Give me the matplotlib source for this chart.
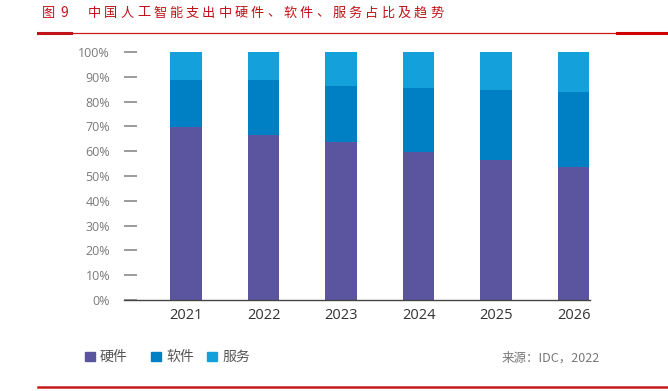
import matplotlib
matplotlib.use("Agg")
import matplotlib.pyplot as plt
from matplotlib.patches import Rectangle
from matplotlib.lines import Line2D

plt.rcParams['font.family'] = ['Noto Sans CJK SC', 'DejaVu Sans']

# data (share of AI spending, %)
years = ['2021', '2022', '2023', '2024', '2025', '2026']
hardware = [69.6, 66.4, 63.7, 59.5, 56.3, 53.8]
software = [19.2, 22.4, 22.6, 26.1, 28.5, 30.2]
services = [11.2, 11.2, 13.7, 14.4, 15.2, 16.0]
series_names = ['硬件', '软件', '服务']
colors = ['#5b55a0', '#0080c4', '#14a0da']
title_text = '中国人工智能支出中硬件、软件、服务占比及趋势'

W, H = 668, 391
fig = plt.figure(figsize=(W / 100, H / 100), dpi=100)

ax = fig.add_axes([124 / W, (H - 300) / H, (589.5 - 124) / W, 248 / H])
x = list(range(len(years)))
hw = [v / 100 for v in hardware]
sw = [v / 100 for v in software]
sv = [v / 100 for v in services]
bottom2 = [a + b for a, b in zip(hw, sw)]
ax.bar(x, hw, width=0.41, color=colors[0])
ax.bar(x, sw, width=0.41, bottom=hw, color=colors[1])
ax.bar(x, sv, width=0.41, bottom=bottom2, color=colors[2])

ax.set_xlim(-0.8, 5.206)
ax.set_ylim(0, 1)
for s in ['left', 'right', 'top']:
    ax.spines[s].set_visible(False)
ax.spines['bottom'].set_color('#444444')
ax.spines['bottom'].set_linewidth(1.0)

ax.set_yticks([i / 10 for i in range(11)])
ax.set_yticklabels([f'{i * 10}%' for i in range(11)], color='#7a7a7a', fontsize=9,
                   family=['Open Sans', 'DejaVu Sans'])
ax.tick_params(axis='y', direction='in', length=9, width=1.2, color='#8a8a8a', pad=10)
ax.set_xticks(x)
ax.set_xticklabels(years, fontsize=10.5, color='#333333', family=['Open Sans', 'DejaVu Sans'])
ax.tick_params(axis='x', length=0, pad=6)

# title, spaced out like the original
red = '#c0141b'
ty = 1 - 13 / H
fig.text(42 / W, ty, '图', color=red, fontsize=9.5, va='center', ha='left')
fig.text(60 / W, ty, '9', color=red, fontsize=10, va='center', ha='left')
for i, ch in enumerate(title_text):
    fig.text((88 + i * 16.3) / W, ty, ch, color=red, fontsize=9.5, va='center', ha='left')

fig.add_artist(Line2D([38 / W, 1], [1 - 33.3 / H] * 2, color='#cc1a1a', lw=0.9))
fig.add_artist(Line2D([38 / W, 71 / W], [1 - 33.3 / H] * 2, color=red, lw=2.2))
fig.add_artist(Line2D([617 / W, 1], [1 - 33.3 / H] * 2, color='#d00000', lw=2.2))
fig.add_artist(Line2D([38 / W, 1], [1 - 386.7 / H] * 2, color='#c8191b', lw=1.8))

# legend
lx = [85, 151, 207]
for px, name, c in zip(lx, series_names, colors):
    fig.add_artist(Rectangle((px / W, 1 - 361 / H), 10 / W, 9.5 / H, color=c,
                             transform=fig.transFigure))
    fig.text((px + 15) / W, 1 - 357 / H, name, fontsize=10, color='#555555',
             va='center', ha='left')

fig.text(502 / W, 1 - 358.5 / H, '来源：IDC，2022', fontsize=9, color='#777777',
         va='center', ha='left')

fig.savefig('out.png', dpi=100)
